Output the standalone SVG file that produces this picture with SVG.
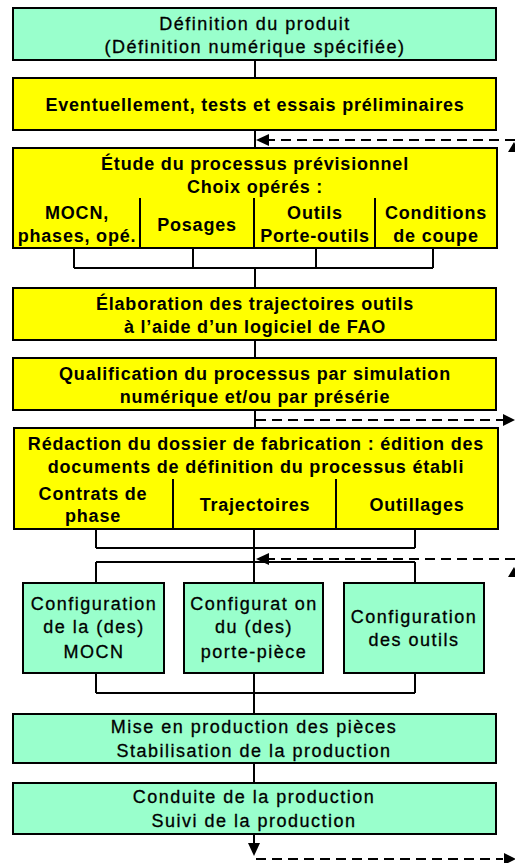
<svg xmlns="http://www.w3.org/2000/svg" width="515" height="863" viewBox="0 0 515 863">
<style>
.g{fill:#99FFCC;stroke:#000;stroke-width:2}
.y{fill:#FFFF00;stroke:#000;stroke-width:2}
.ln{fill:none;stroke:#000;stroke-width:2}
.dash{fill:none;stroke:#000;stroke-width:2;stroke-dasharray:10 6}
.hd{fill:#000;stroke:none}
text{font-family:"Liberation Sans",Arial,sans-serif;font-size:18px;fill:#000;text-anchor:middle}
.tb{font-weight:bold;letter-spacing:0.8px}
.tr{letter-spacing:1.5px;stroke:#000;stroke-width:0.3px}
</style>
<rect width="515" height="863" fill="#fff"/>
<g id="connectors">
<line class="ln" x1="255" y1="60" x2="255" y2="78"/>
<line class="ln" x1="255" y1="130" x2="255" y2="148"/>
<path class="ln" d="M74 248V268M193 248V268M316 248V268M433 248V268M74 268H433M255 268V288"/>
<line class="ln" x1="255" y1="340" x2="255" y2="358"/>
<line class="ln" x1="255" y1="410" x2="255" y2="428"/>
<path class="ln" d="M96 529V548M415 529V548M96 548H415M254 529V583M96 562H415M96 562V583M415 562V583"/>
<path class="ln" d="M96 673V693M415 673V693M96 693H415M254 673V714"/>
<line class="ln" x1="254" y1="763" x2="254" y2="783"/>
<line class="ln" x1="254" y1="834" x2="254" y2="845"/>
<polygon class="hd" points="248,843 260,843 254,856"/>
<line class="dash" x1="515" y1="140" x2="268" y2="140"/>
<polygon class="hd" points="256,140 269,134 269,146"/>
<line class="dash" x1="256" y1="420" x2="503" y2="420"/>
<polygon class="hd" points="515,420 503,414 503,426"/>
<line class="dash" x1="515" y1="559" x2="268" y2="559"/>
<polygon class="hd" points="256,559 269,553 269,565"/>
<line class="dash" x1="256" y1="859" x2="503" y2="859"/>
<polygon class="hd" points="516,859 504,853 504,865"/>
<polygon class="hd" points="508,152 514,142 520,152"/>
<polygon class="hd" points="508,577 514,567 520,577"/>
</g>
<g id="n1">
<rect class="g" x="13" y="8" width="483" height="52"/>
<text class="tr" x="255" y="30">Définition du produit</text>
<text class="tr" x="255" y="53">(Définition numérique spécifiée)</text>
</g>
<g id="n2">
<rect class="y" x="13" y="78" width="483" height="52"/>
<text class="tb" x="255" y="111">Eventuellement, tests et essais préliminaires</text>
</g>
<g id="n3">
<rect class="y" x="13" y="148" width="484" height="100"/>
<text class="tb" x="255" y="170">Étude du processus prévisionnel</text>
<text class="tb" x="255" y="193">Choix opérés :</text>
<path class="ln" d="M140 198V248M254 198V248M375 198V248"/>
<text class="tb" x="77" y="219">MOCN,</text>
<text class="tb" x="77" y="242">phases, opé.</text>
<text class="tb" x="197" y="231">Posages</text>
<text class="tb" x="315" y="219">Outils</text>
<text class="tb" x="315" y="242">Porte-outils</text>
<text class="tb" x="436" y="219">Conditions</text>
<text class="tb" x="436" y="242">de coupe</text>
</g>
<g id="n4">
<rect class="y" x="13" y="288" width="483" height="52"/>
<text class="tb" x="255" y="310">Élaboration des trajectoires outils</text>
<text class="tb" x="255" y="333">à l’aide d’un logiciel de FAO</text>
</g>
<g id="n5">
<rect class="y" x="13" y="358" width="483" height="52"/>
<text class="tb" x="255" y="380">Qualification du processus par simulation</text>
<text class="tb" x="255" y="403">numérique et/ou par présérie</text>
</g>
<g id="n6">
<rect class="y" x="14" y="428" width="484" height="101"/>
<text class="tb" x="256" y="450">Rédaction du dossier de fabrication : édition des</text>
<text class="tb" x="256" y="473">documents de définition du processus établi</text>
<path class="ln" d="M173 479V529M336 479V529"/>
<text class="tb" x="93" y="500">Contrats de</text>
<text class="tb" x="93" y="522">phase</text>
<text class="tb" x="255" y="511">Trajectoires</text>
<text class="tb" x="417" y="511">Outillages</text>
</g>
<g id="n7">
<rect class="g" x="23" y="583" width="141" height="90"/>
<text class="tr" x="94" y="610">Configuration</text>
<text class="tr" x="94" y="633">de la (des)</text>
<text class="tr" x="94" y="658">MOCN</text>
</g>
<g id="n8">
<rect class="g" x="184" y="583" width="139" height="90"/>
<text class="tr" x="254" y="610">Configurat on</text>
<text class="tr" x="254" y="633">du (des)</text>
<text class="tr" x="254" y="658">porte-pièce</text>
</g>
<g id="n9">
<rect class="g" x="344" y="583" width="140" height="90"/>
<text class="tr" x="414" y="623">Configuration</text>
<text class="tr" x="414" y="646">des outils</text>
</g>
<g id="n10">
<rect class="g" x="13" y="714" width="483" height="49"/>
<text class="tr" x="254" y="733">Mise en production des pièces</text>
<text class="tr" x="254" y="757">Stabilisation de la production</text>
</g>
<g id="n11">
<rect class="g" x="13" y="783" width="483" height="51"/>
<text class="tr" x="254" y="803">Conduite de la production</text>
<text class="tr" x="254" y="827">Suivi de la production</text>
</g>
</svg>
